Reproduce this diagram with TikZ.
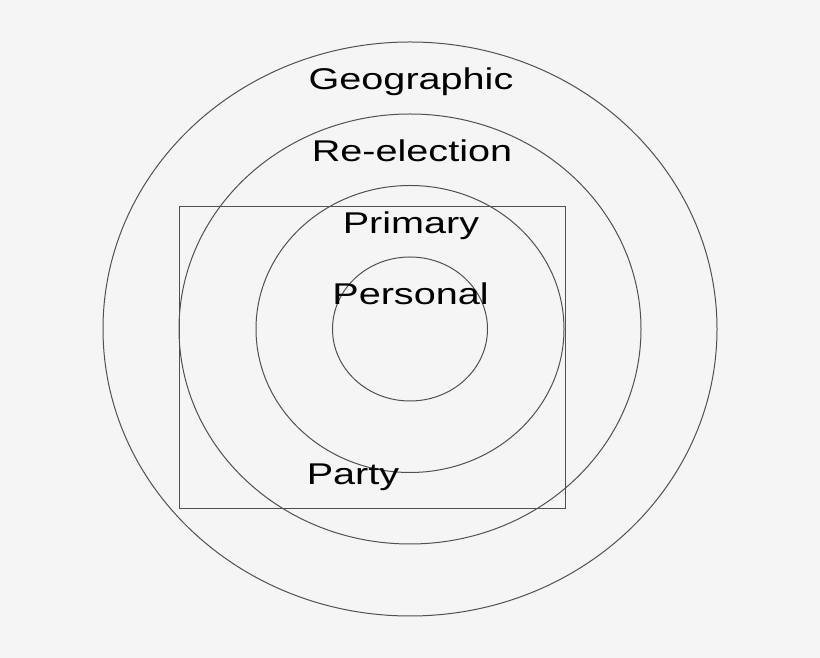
\documentclass[tikz,border=0pt]{standalone}
\usepackage{fontspec}
\setmainfont{Liberation Sans}
\definecolor{bggray}{HTML}{F5F5F5}
\definecolor{ringgray}{HTML}{505050}
\tikzset{
	ring/.style={draw=ringgray,line width=1bp},
	lbl/.style={anchor=base,inner sep=0pt,xscale=1.32,font=\fontsize{30bp}{36bp}\selectfont}
}
\begin{document}
\begin{tikzpicture}[x=1bp,y=1bp]
	\fill[bggray] (0,0) rectangle (820,658);
	\useasboundingbox (0,0) rectangle (820,658);
	\coordinate (C) at (410,329);
	% rings, outside in
	\draw[ring] (C) ellipse [x radius=307,y radius=287];
	\draw[ring] (C) ellipse [x radius=231,y radius=215];
	\draw[ring] (C) ellipse [x radius=154,y radius=143.5];
	\draw[ring] (C) ellipse [x radius=77.5,y radius=72];
	% party box
	\draw[ring] (179,451) rectangle (565,149);
	\node[lbl] (Geo) at (411,568.5) {Geographic};
	\node[lbl] (Reel) at (412,496.5) {Re-election};
	\node[lbl] (Prim) at (411,424.5) {Primary};
	\node[lbl] (Pers) at (410.5,353.5) {Personal};
	\node[lbl] (Party) at (353,173.5) {Party};
\end{tikzpicture}
\end{document}
